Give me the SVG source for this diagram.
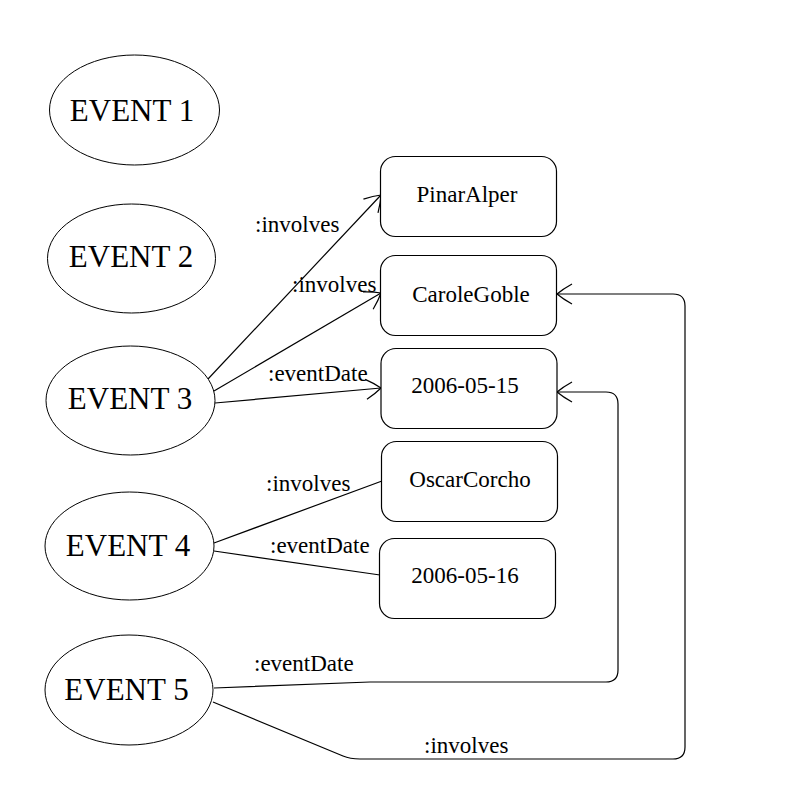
<svg xmlns="http://www.w3.org/2000/svg" width="804" height="798" viewBox="0 0 804 798">
<style>
.ev{fill:#fff;stroke:#000;stroke-width:1}
.bx{fill:#fff;stroke:#000;stroke-width:1.2}
.evt{font-family:"Liberation Serif","Times New Roman",serif;font-size:31px;fill:#000;text-anchor:middle}
.bt{font-family:"Liberation Serif","Times New Roman",serif;font-size:23px;fill:#000;text-anchor:middle}
.lbl{font-family:"Liberation Serif","Times New Roman",serif;font-size:23px;fill:#000}
.e{fill:none;stroke:#000;stroke-width:1.2}
.a{marker-end:url(#arr)}
</style>
<defs>
<marker id="arr" markerUnits="userSpaceOnUse" orient="auto" viewBox="-18 -14 22 28" markerWidth="22" markerHeight="28" refX="0" refY="0" overflow="visible">
<path d="M-15,-10 Q-6,-5 0,0 Q-6,5 -15,10" fill="none" stroke="#000" stroke-width="1.2"/>
</marker>
</defs>
<rect width="804" height="798" fill="#fff"/>
<g id="connectors">
<path class="e a" d="M208,379 L381,195"/>
<path class="e a" d="M214,391 L381,293"/>
<path class="e a" d="M215,403 L381,388"/>
<path class="e" d="M214,543 L382,481"/>
<path class="e" d="M214,551 L380,575"/>
<path class="e a" d="M214,688 L370,682 L606,682 Q618,682 618,670 L618,404 Q618,392 606,392 L557,392"/>
<path class="e a" d="M213,702 L343,756 Q350,759 360,759 L673,759 Q685,759 685,747 L685,306 Q685,294 673,294 L557,294"/>
<text class="lbl" x="255" y="232">:involves</text>
<text class="lbl" x="292" y="292">:involves</text>
<text class="lbl" x="268" y="381">:eventDate</text>
<text class="lbl" x="266" y="491">:involves</text>
<text class="lbl" x="270" y="553">:eventDate</text>
<text class="lbl" x="254" y="671">:eventDate</text>
<text class="lbl" x="424" y="753">:involves</text>
</g>
<g id="event1"><ellipse class="ev" cx="134.5" cy="110" rx="85" ry="55"/><text class="evt" x="132" y="121">EVENT 1</text></g>
<g id="event2"><ellipse class="ev" cx="131.5" cy="258.5" rx="84" ry="54.5"/><text class="evt" x="131" y="267">EVENT 2</text></g>
<g id="event3"><ellipse class="ev" cx="130.5" cy="400.5" rx="84.5" ry="54.5"/><text class="evt" x="130" y="409">EVENT 3</text></g>
<g id="event4"><ellipse class="ev" cx="129.5" cy="546" rx="84.5" ry="54"/><text class="evt" x="128" y="556">EVENT 4</text></g>
<g id="event5"><ellipse class="ev" cx="129" cy="690" rx="84" ry="55"/><text class="evt" x="126.5" y="700">EVENT 5</text></g>
<g id="pinaralper"><rect class="bx" x="380.5" y="156.5" width="176" height="80" rx="15"/><text class="bt" x="467" y="202">PinarAlper</text></g>
<g id="carolegoble"><rect class="bx" x="380.5" y="255.5" width="176" height="80" rx="15"/><text class="bt" x="471" y="302">CaroleGoble</text></g>
<g id="date1"><rect class="bx" x="381" y="348.5" width="176" height="80" rx="15"/><text class="bt" x="465" y="392.5">2006-05-15</text></g>
<g id="oscarcorcho"><rect class="bx" x="381.5" y="441.5" width="176" height="80" rx="15"/><text class="bt" x="470" y="486.5">OscarCorcho</text></g>
<g id="date2"><rect class="bx" x="379.5" y="538.5" width="176" height="80" rx="15"/><text class="bt" x="465" y="583">2006-05-16</text></g>
</svg>
